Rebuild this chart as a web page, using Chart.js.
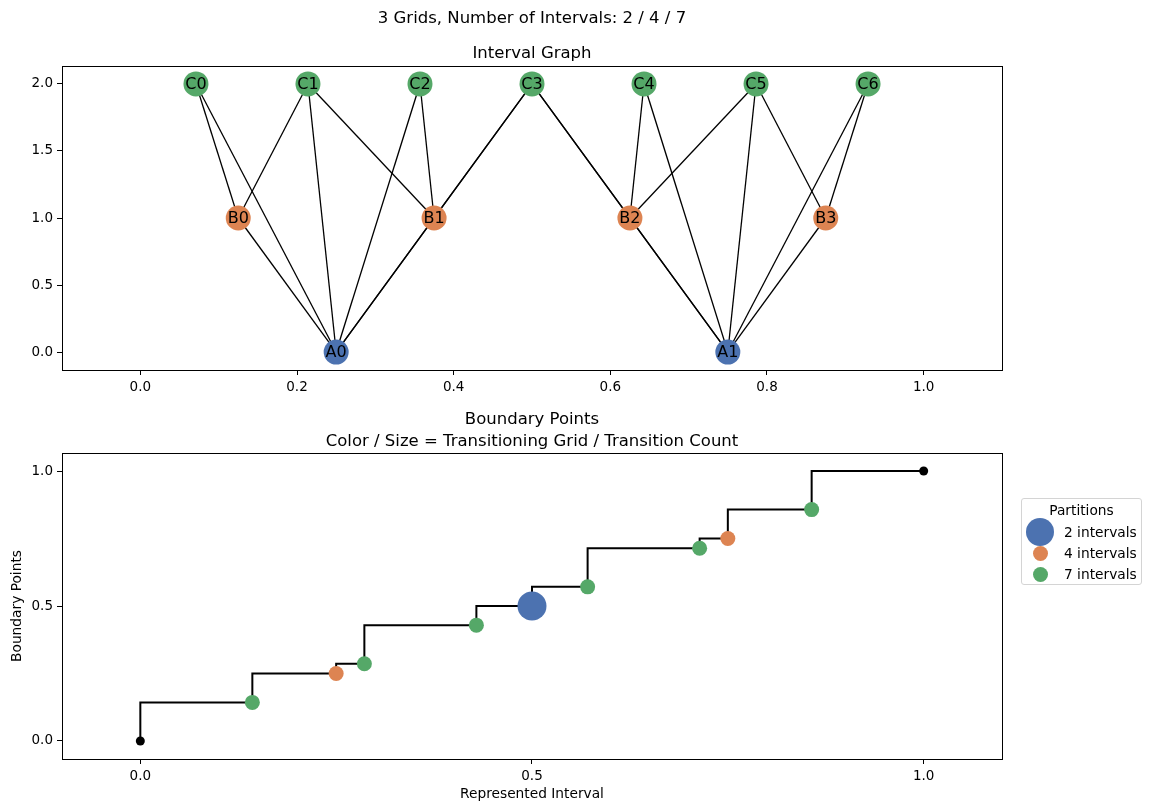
<!DOCTYPE html>
<html>
<head>
<meta charset="utf-8">
<script src="https://cdn.jsdelivr.net/npm/chart.js@4.4.0/dist/chart.umd.min.js"></script>
<style>
  body { margin: 0; background: #fff; font-family: 'DejaVu Sans', sans-serif; }
  #wrap { position: relative; width: 1158px; height: 811px; }
  #wrap canvas { position: absolute; left: 0; }
  #legend { position: absolute; left: 1021px; top: 498px; width: 119px; height: 85px;
            border: 1px solid #d4d4d4; border-radius: 3px; background: #fff;
            font-size: 13.75px; color: #000; }
  #legend .ttl { position: absolute; left: 0; width: 100%; top: 3px; text-align: center; }
  #legend .dot { position: absolute; border-radius: 50%; }
  #legend .lbl { position: absolute; left: 42px; line-height: 16px; white-space: nowrap; }
</style>
</head>
<body>
<div id="wrap">
  <canvas id="graphChart" width="1158" height="400" style="top:0"></canvas>
  <canvas id="boundaryChart" width="1158" height="411" style="top:400px"></canvas>
  <div id="legend"></div>
</div>
<script>
// ---- interval graph (top) ----
const namesA = ['A0', 'A1'];
const xA = [0.25, 0.75];
const yA = [0, 0];
const namesB = ['B0', 'B1', 'B2', 'B3'];
const xB = [0.125, 0.375, 0.625, 0.875];
const yB = [1, 1, 1, 1];
const namesC = ['C0', 'C1', 'C2', 'C3', 'C4', 'C5', 'C6'];
const xC = [0.071, 0.214, 0.357, 0.5, 0.643, 0.786, 0.929];
const yC = [2, 2, 2, 2, 2, 2, 2];
const edges = [
  ['A0', 'B0'], ['A0', 'B1'], ['A0', 'C0'], ['A0', 'C1'], ['A0', 'C2'], ['A0', 'C3'],
  ['A1', 'B2'], ['A1', 'B3'], ['A1', 'C3'], ['A1', 'C4'], ['A1', 'C5'], ['A1', 'C6'],
  ['B0', 'C0'], ['B0', 'C1'],
  ['B1', 'C1'], ['B1', 'C2'], ['B1', 'C3'],
  ['B2', 'C3'], ['B2', 'C4'], ['B2', 'C5'],
  ['B3', 'C5'], ['B3', 'C6']
];
const graphXTicks = [0, 0.2, 0.4, 0.6, 0.8, 1.0];
const graphYTicks = [0, 0.5, 1.0, 1.5, 2.0];

// ---- boundary points (bottom) ----
const boundaryX = [0, 0.143, 0.25, 0.286, 0.429, 0.5, 0.571, 0.714, 0.75, 0.857, 1.0];
const boundaryY = [0, 0.143, 0.25, 0.286, 0.429, 0.5, 0.571, 0.714, 0.75, 0.857, 1.0];
const boundaryGrid = ['end', '7', '4', '7', '7', '2', '7', '7', '4', '7', 'end'];
const partitionKeys = ['2', '4', '7'];
const partitionLabels = ['2 intervals', '4 intervals', '7 intervals'];
const boundaryXTicks = [0, 0.5, 1.0];
const boundaryYTicks = [0, 0.5, 1.0];

const FONT = "'DejaVu Sans', sans-serif";
const BLUE = '#4c72b0', ORANGE = '#dd8452', GREEN = '#55a868';
const gridColor = {'2': BLUE, '4': ORANGE, '7': GREEN, 'end': '#000'};
const gridRadius = {'2': 14.5, '4': 7.5, '7': 7.5, 'end': 4.5};

const frame = {
  id: 'frame',
  afterDraw(chart) {
    const {ctx, chartArea: a} = chart;
    ctx.save();
    ctx.strokeStyle = '#000';
    ctx.lineWidth = 1;
    ctx.strokeRect(a.left + 0.5, a.top + 0.5, a.right - a.left, a.bottom - a.top);
    ctx.restore();
  }
};

const nodeLabels = {
  id: 'nodeLabels',
  afterDatasetsDraw(chart) {
    const ctx = chart.ctx;
    ctx.save();
    ctx.font = '16px ' + FONT;
    ctx.fillStyle = '#000';
    ctx.textAlign = 'center';
    ctx.textBaseline = 'middle';
    chart.data.datasets.forEach((ds, i) => {
      if (!ds.nodeNames) return;
      chart.getDatasetMeta(i).data.forEach((pt, j) => {
        ctx.fillText(ds.nodeNames[j], pt.x, pt.y + 1);
      });
    });
    ctx.restore();
  }
};

function axis(min, max, tickList, extra) {
  return Object.assign({
    type: 'linear',
    min: min,
    max: max,
    afterBuildTicks: s => { s.ticks = tickList.map(v => ({value: v})); },
    grid: {drawOnChartArea: false, drawTicks: true, tickLength: 5, tickColor: '#000', tickWidth: 1},
    border: {display: false},
    ticks: {
      autoSkip: false, maxRotation: 0, padding: 4, color: '#000',
      font: {family: FONT, size: 13.5},
      callback: v => Number(v).toFixed(1)
    }
  }, extra);
}

// top chart datasets
const byName = {};
[[namesA, xA, yA], [namesB, xB, yB], [namesC, xC, yC]].forEach(([n, xs, ys]) => {
  n.forEach((name, i) => { byName[name] = {x: xs[i], y: ys[i]}; });
});
const nodeSet = (names, xs, ys, color) => ({
  type: 'scatter',
  nodeNames: names,
  data: names.map((n, i) => ({x: xs[i], y: ys[i]})),
  backgroundColor: color,
  borderWidth: 0,
  pointRadius: 12.5,
  pointHoverRadius: 12.5,
  order: 0
});
const graphSets = [
  nodeSet(namesA, xA, yA, BLUE),
  nodeSet(namesB, xB, yB, ORANGE),
  nodeSet(namesC, xC, yC, GREEN)
];
edges.forEach(([a, b]) => {
  graphSets.push({
    type: 'line',
    data: [byName[a], byName[b]],
    borderColor: '#000',
    borderWidth: 1.3,
    pointRadius: 0,
    fill: false,
    order: 1
  });
});

new Chart(document.getElementById('graphChart'), {
  type: 'scatter',
  data: {datasets: graphSets},
  options: {
    responsive: false,
    animation: false,
    devicePixelRatio: 1,
    layout: {padding: {left: 0, right: 156, top: 0, bottom: 0}},
    plugins: {
      legend: {display: false},
      tooltip: {enabled: false},
      title: {
        display: true, fullSize: false, text: '3 Grids, Number of Intervals: 2 / 4 / 7',
        color: '#000', font: {family: FONT, size: 16.5, weight: 'normal'},
        padding: {top: 9, bottom: 15}
      },
      subtitle: {
        display: true, fullSize: false, text: 'Interval Graph',
        color: '#000', font: {family: FONT, size: 16.5, weight: 'normal'},
        padding: {top: 0, bottom: 2.4}
      }
    },
    scales: {
      x: axis(-0.1, 1.1, graphXTicks, {afterFit: s => { s.height = 30; }}),
      y: axis(-0.134, 2.134, graphYTicks, {afterFit: s => { s.width = 62; }})
    }
  },
  plugins: [frame, nodeLabels]
});

// bottom chart datasets
const boundarySets = [{
  type: 'line',
  data: boundaryX.map((x, i) => ({x: x, y: boundaryY[i]})),
  stepped: 'after',
  borderColor: '#000',
  borderWidth: 2,
  pointRadius: 0,
  fill: false,
  order: 5
}];
['end'].concat(partitionKeys).forEach(key => {
  const pts = [];
  boundaryX.forEach((x, i) => { if (boundaryGrid[i] === key) pts.push({x: x, y: boundaryY[i]}); });
  boundarySets.push({
    type: 'scatter',
    data: pts,
    backgroundColor: gridColor[key],
    borderWidth: 0,
    pointRadius: gridRadius[key],
    pointHoverRadius: gridRadius[key],
    order: 1
  });
});

new Chart(document.getElementById('boundaryChart'), {
  type: 'scatter',
  data: {datasets: boundarySets},
  options: {
    responsive: false,
    animation: false,
    devicePixelRatio: 1,
    layout: {padding: {left: 0, right: 156, top: 0, bottom: 0}},
    plugins: {
      legend: {display: false},
      tooltip: {enabled: false},
      title: {
        display: true, fullSize: false,
        text: ['Boundary Points', 'Color / Size = Transitioning Grid / Transition Count'],
        color: '#000', font: {family: FONT, size: 16.5, weight: 'normal', lineHeight: 22 / 16.5},
        padding: {top: 9, bottom: 0}
      }
    },
    scales: {
      x: axis(-0.1, 1.1, boundaryXTicks, {
        afterFit: s => { s.height = 52; },
        title: {display: true, text: 'Represented Interval', color: '#000',
                font: {family: FONT, size: 13.75}, padding: {top: 0, bottom: 8}}
      }),
      y: axis(-0.0667, 1.0667, boundaryYTicks, {
        afterFit: s => { s.width = 62; },
        title: {display: true, text: 'Boundary Points', color: '#000',
                font: {family: FONT, size: 13.75}, padding: {top: 9.5, bottom: 0}}
      })
    }
  },
  plugins: [frame]
});

// legend
const legend = document.getElementById('legend');
legend.innerHTML = '<div class="ttl">Partitions</div>';
partitionKeys.forEach((key, i) => {
  const cy = 33 + i * 21;
  const r = key === '2' ? 14 : 7.5;
  const dot = document.createElement('div');
  dot.className = 'dot';
  dot.style.cssText = `left:${18 - r}px;top:${cy - r}px;width:${2 * r}px;height:${2 * r}px;background:${gridColor[key]}`;
  legend.appendChild(dot);
  const lbl = document.createElement('div');
  lbl.className = 'lbl';
  lbl.style.top = (cy - 8) + 'px';
  lbl.textContent = partitionLabels[i];
  legend.appendChild(lbl);
});
</script>
</body>
</html>
